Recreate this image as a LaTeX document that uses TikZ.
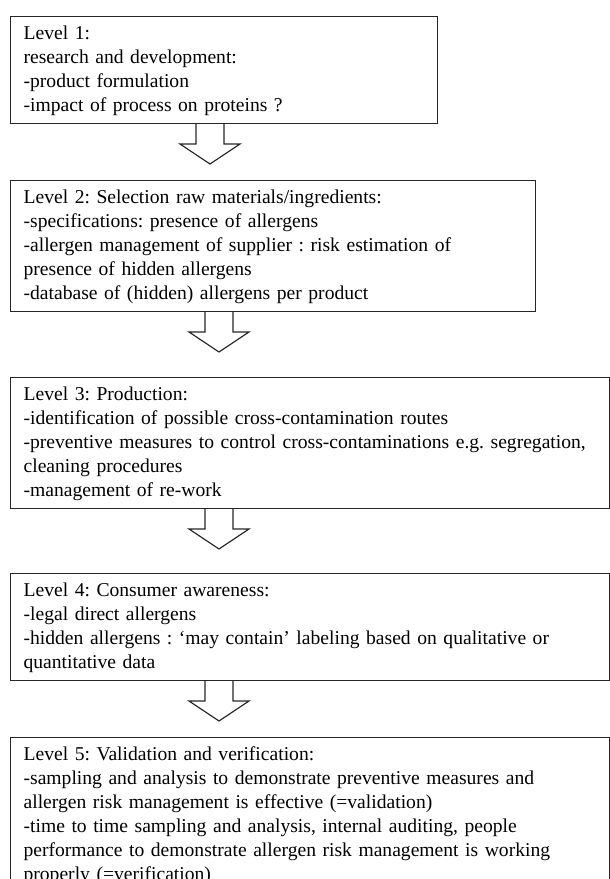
\documentclass[tikz,border=0pt]{standalone}
\usepackage{fontspec}
\setmainfont{Liberation Serif}
\usetikzlibrary{positioning}
\frenchspacing

\begin{document}
\begin{tikzpicture}[
        x=0.75pt, y=0.75pt,
        every node/.style={font=\fontsize{14.7pt}{18pt}\selectfont},
        level/.style={rectangle, draw=black!85, line width=0.9pt, align=left, inner xsep=9.75pt, inner ysep=0pt,
            execute at begin node={\hyphenpenalty=10000\rule{0pt}{17.5pt}}, execute at end node={\rule[-8.6pt]{0pt}{0pt}}},
        hollowarrow/.style={draw=black!85, line width=0.9pt, line join=miter}
    ]
    \useasboundingbox (0,0) rectangle (610,-879);

    % Levels
    \node[level, text width=300.75pt, anchor=north west] (lvlone) at (10,-16)
        {Level 1:\\research and development:\\-product formulation\\-impact of process on proteins ?};
    \node[level, text width=374.25pt, below=42pt of lvlone.south west, anchor=north west] (lvltwo)
        {Level 2: Selection raw materials/ingredients:\\-specifications: presence of allergens\\-allergen management of supplier : risk estimation of\\presence of hidden allergens\\-database of (hidden) allergens per product};
    \node[level, text width=429.75pt, below=48.75pt of lvltwo.south west, anchor=north west] (lvlthree)
        {Level 3: Production:\\-identification of possible cross-contamination routes\\-preventive measures to control cross-contaminations e.g. segregation,\\cleaning procedures\\-management of re-work};
    \node[level, text width=429.75pt, below=48pt of lvlthree.south west, anchor=north west] (lvlfour)
        {Level 4: Consumer awareness:\\-legal direct allergens\\-hidden allergens : ‘may contain’ labeling based on qualitative or\\quantitative data};
    \node[level, text width=429.75pt, below=42pt of lvlfour.south west, anchor=north west] (lvlfive)
        {Level 5: Validation and verification:\\-sampling and analysis to demonstrate preventive measures and\\allergen risk management is effective (=validation)\\-time to time sampling and analysis, internal auditing, people\\performance to demonstrate allergen risk management is working\\properly (=verification)};

    % Arrows
    \draw[hollowarrow] ([xshift=139.5pt]lvlone.south west) -- ++(0,-20) -- ++(-16,0) -- ++(30,-20) -- ++(30,20) -- ++(-16,0) -- ++(0,20);
    \draw[hollowarrow] ([xshift=146.25pt]lvltwo.south west) -- ++(0,-20) -- ++(-16,0) -- ++(30,-20) -- ++(30,20) -- ++(-16,0) -- ++(0,20);
    \draw[hollowarrow] ([xshift=146.25pt]lvlthree.south west) -- ++(0,-20) -- ++(-16,0) -- ++(30,-20) -- ++(30,20) -- ++(-16,0) -- ++(0,20);
    \draw[hollowarrow] ([xshift=146.25pt]lvlfour.south west) -- ++(0,-20) -- ++(-16,0) -- ++(30,-20) -- ++(30,20) -- ++(-16,0) -- ++(0,20);
\end{tikzpicture}
\end{document}
